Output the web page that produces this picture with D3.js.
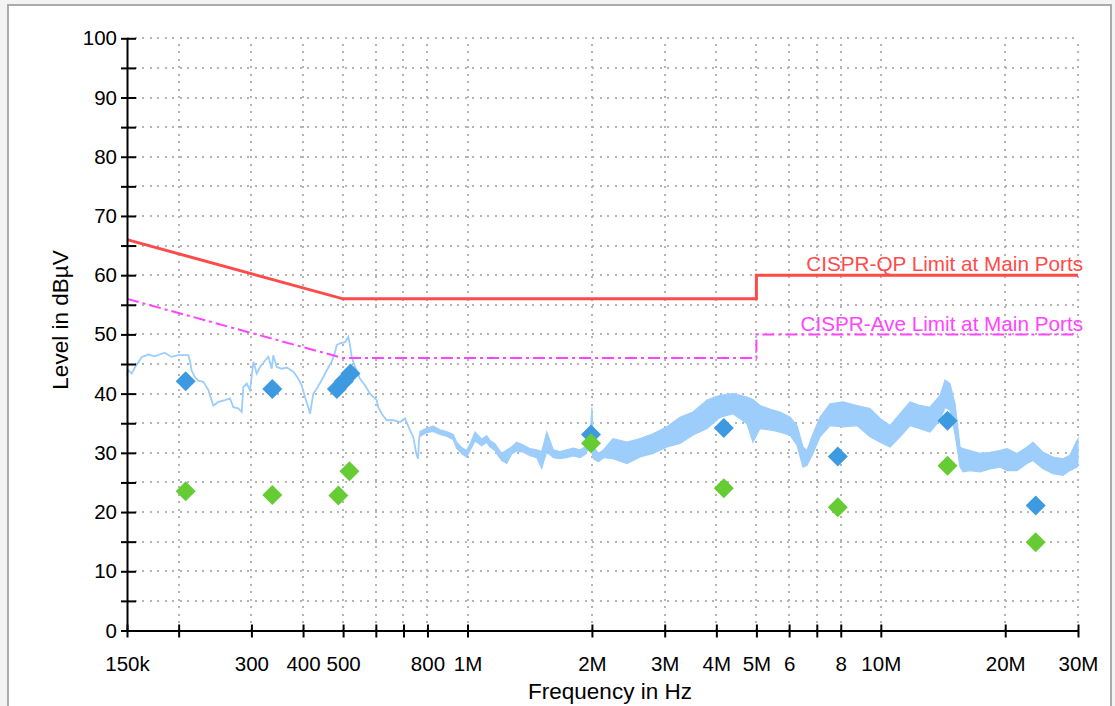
<!DOCTYPE html>
<html>
<head>
<meta charset="utf-8">
<script src="https://cdn.jsdelivr.net/npm/d3@7"></script>
<style>
  html, body { margin: 0; padding: 0; background: #f3f3f3; }
  svg { display: block; }
  text { font-family: "Liberation Sans", Arial, sans-serif; }
</style>
</head>
<body>
<svg id="chart" width="1115" height="706"></svg>
<script>
// ---------------- data ----------------
const xTickFreqs = [150e3,200e3,300e3,400e3,500e3,600e3,700e3,800e3,1e6,2e6,3e6,4e6,5e6,6e6,7e6,8e6,10e6,20e6,30e6];
const xTickLabels = ["150k","","300","400","500","","","800","1M","2M","3M","4M","5M","6","","8","10M","20M","30M"];
const yTickValues = [0,5,10,15,20,25,30,35,40,45,50,55,60,65,70,75,80,85,90,95,100];
const yTickLabels = ["0","","10","","20","","30","","40","","50","","60","","70","","80","","90","","100"];

// limit lines (frequency in MHz, level in dBuV)
const qpLimitFreqMHz = [0.15, 0.5, 5, 5, 30];
const qpLimitLevel   = [66, 56, 56, 60, 60];
const avLimitFreqMHz = [0.15, 0.5, 5, 5, 30];
const avLimitLevel   = [56, 46, 46, 50, 50];

// measured sweep, narrow part (MHz, dBuV)
const sweepFreqMHz = [0.150,0.1507,0.154,0.157,0.163,0.169,0.175,0.185,0.192,0.200,0.211,0.213,0.215,0.219,0.223,0.2295,0.236,0.2426,0.2495,0.259,0.2663,0.2713,0.2789,0.2842,0.2868,0.2923,0.2977,0.3033,0.3090,0.3148,0.3237,0.3297,0.3360,0.3389,0.3454,0.3552,0.3652,0.3789,0.3896,0.3970,0.4044,0.4119,0.4158,0.4236,0.4316,0.4438,0.4563,0.4692,0.4780,0.4825,0.4915,0.5054,0.5147,0.5196,0.5245,0.5343,0.5494,0.5649,0.5809,0.6029,0.6083,0.6200,0.6375,0.6614,0.6865,0.7059,0.7258,0.7393,0.752,0.759,0.763,0.767];
const sweepLevel   = [43.0,44.0,43.4,44.5,46.2,46.6,46.3,46.9,46.2,46.5,46.5,45.6,43.9,42.8,42.2,42.0,40.6,38.0,38.6,38.9,39.2,37.7,37.5,36.9,41.1,41.7,40.6,45.4,43.4,44.5,45.6,46.2,44.2,46.5,44.5,44.2,44.4,43.7,42.5,41.4,39.4,37.7,36.6,40.0,40.8,42.3,43.9,45.4,47.0,48.2,48.5,48.7,49.6,48.2,46.2,44.5,42.5,41.4,40.0,38.9,37.7,36.6,35.5,35.5,35.2,35.8,33.8,32.7,29.8,29.0,32.0,33.2];

// measured sweep, noisy band part (MHz, upper and lower envelope in dBuV)
const bandFreqMHz = [0.767,0.797,0.826,0.858,0.890,0.924,0.941,0.968,0.995,1.014,1.043,1.082,1.113,1.133,1.166,1.187,1.210,1.244,1.279,1.315,1.365,1.417,1.470,1.512,1.555,1.613,1.674,1.738,1.803,1.872,1.925,1.979,2.000,2.017,2.074,2.133,2.249,2.432,2.615,2.811,3.038,3.267,3.513,3.798,4.083,4.390,4.745,4.905,5.101,5.484,5.703,6.032,6.270,6.481,6.628,6.853,7.125,7.534,8.101,8.757,9.416,9.956,10.53,11.13,11.77,12.44,13.15,13.91,14.30,14.70,15.12,15.55,15.81,16.44,17.38,18.38,19.43,20.20,21.36,22.58,23.35,24.69,26.10,27.59,28.68,29.83,30.0];
const bandHi = [33.6,34.2,34.5,33.9,33.6,33.1,31.8,30.9,30.4,31.5,33.5,32.3,32.9,32.1,31.5,30.7,29.9,30.5,31.0,31.8,31.3,30.7,30.5,30.2,33.5,30.5,30.2,30.5,30.8,30.5,31.0,32.7,37.7,31.0,29.9,30.5,32.4,31.8,32.4,33.2,34.4,36.0,36.9,38.9,39.7,40.0,39.4,39.0,38.0,37.2,36.9,36.0,34.6,31.0,30.4,33.2,36.0,38.3,38.6,38.0,37.5,35.8,34.6,36.6,38.6,38.0,37.7,39.7,42.3,41.7,38.3,31.0,30.7,30.4,29.9,30.1,30.4,30.7,29.9,31.0,31.8,30.1,29.3,29.0,29.6,32.1,32.4];
const bandLo = [32.8,33.4,33.6,33.1,32.8,32.2,30.8,29.9,29.3,30.4,32.0,31.2,31.8,31.0,30.4,29.5,28.7,28.2,29.8,30.3,30.1,29.5,29.2,27.4,30.2,29.2,29.0,29.2,29.5,29.2,29.7,31.2,30.0,29.0,28.5,29.2,29.0,28.2,29.3,29.9,31.0,31.6,33.0,34.1,36.0,36.6,34.9,31.8,34.1,33.8,33.5,33.0,31.3,27.6,27.9,29.9,32.7,34.6,34.4,34.6,32.7,31.8,31.0,32.7,34.6,34.1,33.5,35.5,37.7,37.2,33.2,27.6,26.8,27.0,26.8,27.3,27.6,27.0,27.0,28.2,28.7,27.3,26.5,26.2,27.0,27.6,28.0];

// final measurement markers
const qpMarkFreqMHz = [0.208,0.337,0.483,0.502,0.521,1.99,4.17,7.87,14.5,23.7];
const qpMarkLevel   = [42.1,40.8,40.8,42.1,43.4,33.1,34.2,29.4,35.4,21.1];
const avMarkFreqMHz = [0.208,0.337,0.487,0.518,1.99,4.17,7.87,14.5,23.7];
const avMarkLevel   = [23.5,22.9,22.8,26.9,31.6,24.0,20.8,27.8,14.9];

// ---------------- drawing ----------------
const svg = d3.select("#chart");
const plotL = 127, plotR = 1078, plotT = 38.3, plotB = 630.5;

svg.append("rect").attr("x", 8).attr("y", 5).attr("width", 1103).attr("height", 730)
  .attr("fill", "#ffffff").attr("stroke", "#ababab").attr("stroke-width", 2);

const x = d3.scaleLog().domain([0.15e6, 30e6]).range([plotL, plotR]);
const y = d3.scaleLinear().domain([0, 100]).range([plotB, plotT]);

// grid
const grid = svg.append("g").attr("stroke", "#b4b4b4").attr("stroke-width", 2)
  .attr("stroke-dasharray", "2,5.5").attr("fill", "none").attr("shape-rendering", "crispEdges");
xTickFreqs.slice(1).forEach(f => {
  grid.append("line").attr("x1", x(f)).attr("x2", x(f)).attr("y1", plotB).attr("y2", plotT);
});
yTickValues.slice(1).forEach(v => {
  grid.append("line").attr("x1", plotL).attr("x2", plotR).attr("y1", y(v)).attr("y2", y(v));
});

const traceColor = "#9ccdfb";
// noisy band
const bandData = bandFreqMHz.map((f, i) => ({ f: f * 1e6, hi: bandHi[i], lo: bandLo[i] }));
svg.append("path").datum(bandData)
  .attr("d", d3.area().x(d => x(d.f)).y0(d => y(d.lo)).y1(d => y(d.hi)))
  .attr("fill", traceColor).attr("stroke", traceColor).attr("stroke-width", 1.2);
// narrow sweep
const sweepData = sweepFreqMHz.map((f, i) => ({ f: f * 1e6, v: sweepLevel[i] }));
svg.append("path").datum(sweepData)
  .attr("d", d3.line().x(d => x(d.f)).y(d => y(d.v)))
  .attr("fill", "none").attr("stroke", traceColor).attr("stroke-width", 1.8);

// limits
const qpData = qpLimitFreqMHz.map((f, i) => ({ f: f * 1e6, v: qpLimitLevel[i] }));
const avData = avLimitFreqMHz.map((f, i) => ({ f: f * 1e6, v: avLimitLevel[i] }));
const lim = d3.line().x(d => x(d.f)).y(d => y(d.v));
svg.append("path").datum(avData).attr("d", lim).attr("fill", "none")
  .attr("stroke", "#ff44ff").attr("stroke-width", 2).attr("stroke-dasharray", "12,4,3,4");
svg.append("path").datum(qpData).attr("d", lim).attr("fill", "none")
  .attr("stroke", "#ff4a4a").attr("stroke-width", 3);

svg.append("text").attr("x", 1083).attr("y", 271).attr("text-anchor", "end")
  .attr("font-size", 20.7).attr("fill", "#ff4a4a").text("CISPR-QP Limit at Main Ports");
svg.append("text").attr("x", 1083).attr("y", 331).attr("text-anchor", "end")
  .attr("font-size", 20.7).attr("fill", "#ff44ff").text("CISPR-Ave Limit at Main Ports");

// markers
const diamond = "M0,-10L10,0L0,10L-10,0Z";
qpMarkFreqMHz.forEach((f, i) => {
  svg.append("path").attr("d", diamond)
    .attr("transform", `translate(${x(f * 1e6)},${y(qpMarkLevel[i])})`).attr("fill", "#3d9ae0");
});
avMarkFreqMHz.forEach((f, i) => {
  svg.append("path").attr("d", diamond)
    .attr("transform", `translate(${x(f * 1e6)},${y(avMarkLevel[i])})`).attr("fill", "#66cc33");
});

// axes
const xAxis = svg.append("g").attr("transform", `translate(0,${plotB})`)
  .call(d3.axisBottom(x).tickValues(xTickFreqs).tickFormat((d, i) => xTickLabels[i]).tickSizeOuter(0));
xAxis.select(".domain").attr("stroke", "#000").attr("stroke-width", 2);
xAxis.selectAll(".tick line").attr("y1", -6).attr("y2", 7).attr("stroke", "#000").attr("stroke-width", 2);
xAxis.selectAll(".tick text").attr("y", 26).attr("dy", "0.71em").attr("font-size", 20.5)
  .attr("font-family", "Liberation Sans, Arial, sans-serif").attr("fill", "#000");

const yAxis = svg.append("g").attr("transform", `translate(${plotL},0)`)
  .call(d3.axisLeft(y).tickValues(yTickValues).tickFormat((d, i) => yTickLabels[i]).tickSizeOuter(0));
yAxis.select(".domain").attr("stroke", "#000").attr("stroke-width", 2);
yAxis.selectAll(".tick line").attr("x1", -6).attr("x2", 9).attr("stroke", "#000").attr("stroke-width", 2);
yAxis.selectAll(".tick text").attr("x", -10).attr("font-size", 20.5)
  .attr("font-family", "Liberation Sans, Arial, sans-serif").attr("fill", "#000");

// axis titles
svg.append("text").attr("x", 610).attr("y", 699).attr("text-anchor", "middle")
  .attr("font-size", 22.5).attr("fill", "#000").text("Frequency in Hz");
svg.append("text").attr("transform", "translate(68,320) rotate(-90)").attr("text-anchor", "middle")
  .attr("font-size", 22.5).attr("fill", "#000").text("Level in dBµV");
</script>
</body>
</html>
